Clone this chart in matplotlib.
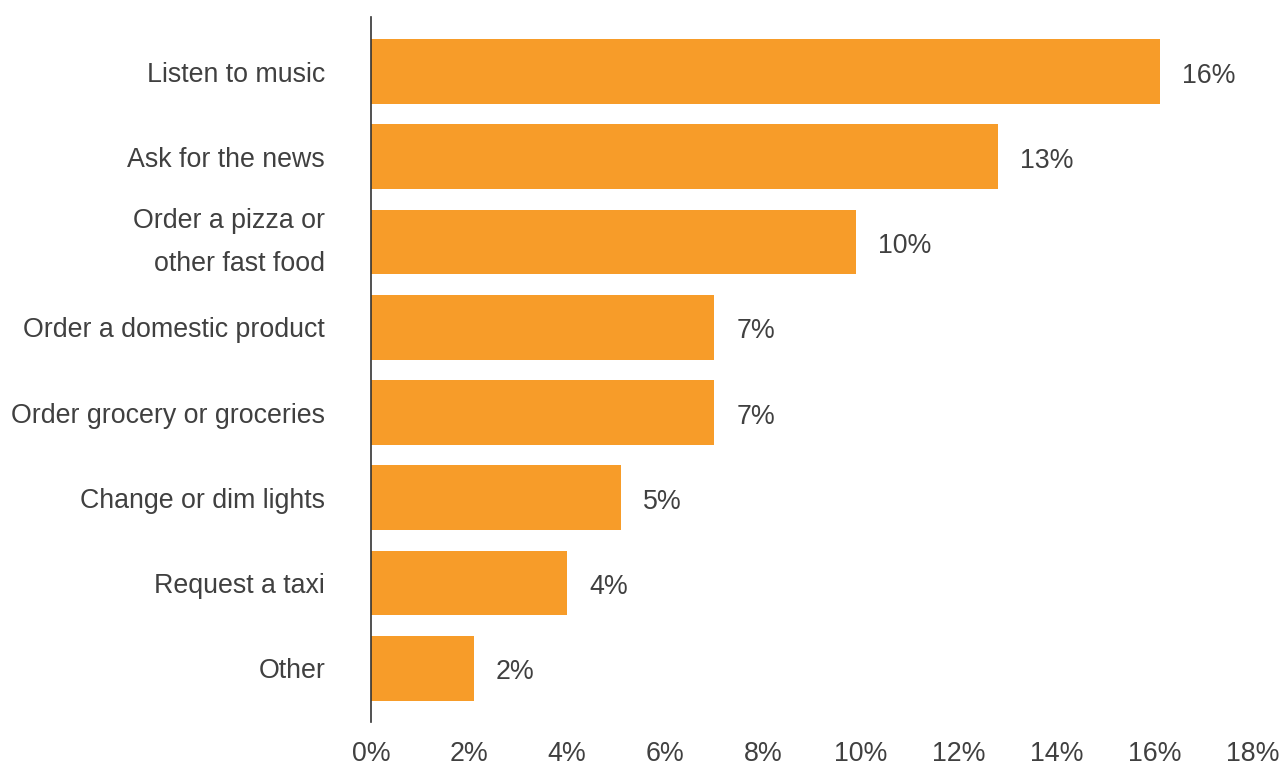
import numpy as np
import matplotlib.pyplot as plt

categories = ["Listen to music", "Ask for the news", "Order a pizza or\nother fast food",
              "Order a domestic product", "Order grocery or groceries",
              "Change or dim lights", "Request a taxi", "Other"]
shares = [16.1, 12.8, 9.9, 7.0, 7.0, 5.1, 4.0, 2.1]
xticks = np.arange(0, 20, 2)

plt.rcParams['font.family'] = ['Liberation Sans', 'DejaVu Sans']
text_col = '#404040'

fig = plt.figure(figsize=(12.81, 7.67), dpi=100)
ax = fig.add_axes([0.2896, 0.0587, 0.6885, 0.9192])

y = np.arange(len(categories))[::-1]
ax.barh(y, shares, height=0.76, color='#F79C29')

for yi, v in zip(y, shares):
    ax.annotate(f"{v:.0f}%", (v, yi), xytext=(16, -3), textcoords='offset points',
                va='center', ha='left', fontsize=19.3, color=text_col)

ax.set_xlim(0, 18)
ax.set_ylim(-0.63, 7.64)
ax.set_xticks(xticks)
ax.set_xticklabels([f"{t}%" for t in xticks])
ax.set_yticks(y)
ax.set_yticklabels(categories, linespacing=1.85)
ax.tick_params(axis='x', length=0, pad=14, labelsize=19.3, labelcolor=text_col)
ax.tick_params(axis='y', length=0, pad=33, labelsize=19.3, labelcolor=text_col)
# single-line labels sit on the baseline, the wrapped one stays centred
for lab in ax.get_yticklabels():
    lab.set_va('center' if '\n' in lab.get_text() else 'center_baseline')

for s in ['top', 'right', 'bottom']:
    ax.spines[s].set_visible(False)
ax.spines['left'].set_color('#333333')
ax.spines['left'].set_linewidth(1.2)

fig.savefig('out.png', dpi=100)
